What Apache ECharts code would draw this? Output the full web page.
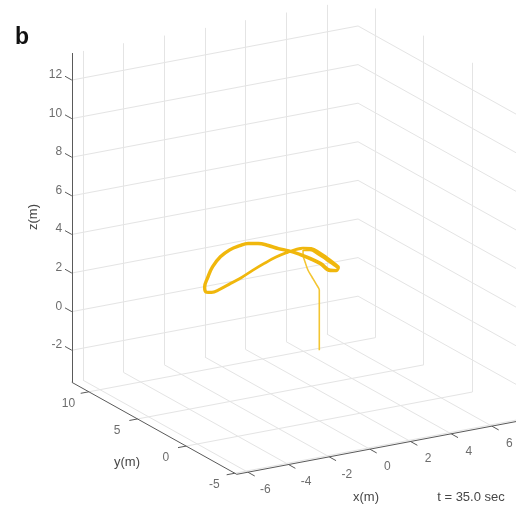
<!DOCTYPE html>
<html><head><meta charset="utf-8">
<script src="https://cdn.jsdelivr.net/npm/echarts@6/dist/echarts.min.js"></script>
<style>html,body{margin:0;padding:0;background:#fff}#c{width:516px;height:505px}</style>
</head><body><div id="c"></div>
<script>
// ---- axis limits & ticks (metres) ----
const xLim = [-6.55, 7.53];
const yLim = [-5.2, 11.75];
const zLim = [-3.66, 13.4];
const xTicks = [-6, -4, -2, 0, 2, 4, 6];
const yTicks = [-5, 0, 5, 10];
const zTicks = [-2, 0, 2, 4, 6, 8, 10, 12];
const timeLabel = 't = 35.0 sec';

// ---- trajectory (metres) ----
const climbX = [0, 0, 0, 0, -0.16, -0.36, -0.56, -0.70, -0.80, -0.80];
const climbY = [0, 0, 0, 0, 0, 0, 0, 0, 0, 0];
const climbZ = [0, 1.0, 2.0, 3.12, 3.47, 3.87, 4.27, 4.72, 5.10, 5.36];

const lap1X = [-0.80, -0.46, -0.06, 0.38, 0.72, 0.92, 0.82, 0.53, 0.03, -0.46, -0.95, -1.54, -2.03, -2.52, -3.02, -3.51, -3.90, -4.39, -4.84, -5.23, -5.47, -5.62, -5.52, -5.28, -4.88, -4.34, -3.80, -3.26, -2.67, -2.13, -1.54, -1.10, -0.80];
const lap1Y = [0, 0, 0, 0, 0, 0, 0, 0, 0, 0, 0, 0, 0, 0, 0, 0, 0, 0, 0, 0, 0, 0, 0, 0, 0, 0, 0, 0, 0, 0, 0, 0, 0];
const lap1Z = [5.36, 5.29, 5.00, 4.60, 4.28, 4.03, 3.95, 4.00, 4.47, 4.82, 5.13, 5.45, 5.65, 5.91, 6.11, 6.21, 6.18, 6.07, 5.80, 5.36, 4.85, 4.40, 4.12, 4.07, 4.15, 4.35, 4.55, 4.81, 5.06, 5.26, 5.40, 5.47, 5.46];

const lap2X = [-0.80, -0.40, 0.00, 0.40, 0.74, 0.95, 0.86, 0.55, 0.08, -0.42, -0.92, -1.50, -2.00, -2.50, -3.00, -3.50, -3.92, -4.42, -4.88, -5.27, -5.51, -5.66, -5.56, -5.30, -4.90, -4.36, -3.82, -3.28, -2.70, -2.15, -1.56, -1.12, -0.82];
const lap2Y = [0, 0, 0, 0, 0, 0, 0, 0, 0, 0, 0, 0, 0, 0, 0, 0, 0, 0, 0, 0, 0, 0, 0, 0, 0, 0, 0, 0, 0, 0, 0, 0, 0];
const lap2Z = [5.46, 5.36, 5.08, 4.70, 4.36, 4.10, 3.98, 4.06, 4.50, 4.86, 5.16, 5.47, 5.69, 5.95, 6.15, 6.25, 6.22, 6.10, 5.83, 5.38, 4.87, 4.40, 4.10, 4.04, 4.12, 4.32, 4.53, 4.79, 5.04, 5.24, 5.38, 5.45, 5.44];

// ---- orthographic view (projection onto a hidden 2-D plane) ----
const VIEW = {X0: 319.3, Y0: 350.3, AX: 20.33, AY: -9.73, BX: -3.84, BY: -5.43, BZ: -19.3};
function proj(x, y, z) {
  return [VIEW.X0 + VIEW.AX * x + VIEW.AY * y, VIEW.Y0 + VIEW.BX * x + VIEW.BY * y + VIEW.BZ * z];
}
function seg(a, b) { return {coords: [proj(a[0], a[1], a[2]), proj(b[0], b[1], b[2])]}; }

// grid lines on back wall (y = ymax), right wall (x = xmax), floor (z = zmin)
const grid = [];
xTicks.forEach(x => grid.push(seg([x, yLim[1], zLim[0]], [x, yLim[1], zLim[1]])));
zTicks.forEach(z => grid.push(seg([xLim[0], yLim[1], z], [xLim[1], yLim[1], z])));
yTicks.forEach(y => grid.push(seg([xLim[1], y, zLim[0]], [xLim[1], y, zLim[1]])));
zTicks.forEach(z => grid.push(seg([xLim[1], yLim[0], z], [xLim[1], yLim[1], z])));
xTicks.forEach(x => grid.push(seg([x, yLim[0], zLim[0]], [x, yLim[1], zLim[0]])));
yTicks.forEach(y => grid.push(seg([xLim[0], y, zLim[0]], [xLim[1], y, zLim[0]])));

// axis lines and ticks
const axes = [
  seg([xLim[0], yLim[1], zLim[0]], [xLim[0], yLim[1], zLim[1]]),
  seg([xLim[0], yLim[0], zLim[0]], [xLim[0], yLim[1], zLim[0]]),
  seg([xLim[0], yLim[0], zLim[0]], [xLim[1], yLim[0], zLim[0]])
];
zTicks.forEach(z => axes.push(seg([xLim[0], yLim[1], z], [xLim[0], yLim[1] + 0.7, z])));
xTicks.forEach(x => axes.push(seg([x, yLim[0], zLim[0]], [x, yLim[0] - 0.7, zLim[0]])));
yTicks.forEach(y => axes.push(seg([xLim[0], y, zLim[0]], [xLim[0] - 0.4, y, zLim[0]])));

const zLab = zTicks.map(z => ({value: proj(xLim[0], yLim[1] + 1.0, z), name: String(z)}));
const xLab = xTicks.map(x => ({value: proj(x, yLim[0] - 1.8, zLim[0] - 0.4), name: String(x)}));
const yLab = yTicks.map(y => ({value: proj(xLim[0] - 1.0, y, zLim[0] - 0.4), name: String(y)}));

const climb = climbX.map((x, i) => proj(x, climbY[i], climbZ[i]));
const loop = lap1X.map((x, i) => proj(x, lap1Y[i], lap1Z[i]))
  .concat(lap2X.map((x, i) => proj(x, lap2Y[i], lap2Z[i])));

const FONT = "'Liberation Sans', Arial, Helvetica, sans-serif";
const TXT = '#474747';
const labelStyle = {show: true, formatter: p => p.name, color: TXT, fontSize: 12, fontFamily: FONT};

const chart = echarts.init(document.getElementById('c'), null, {renderer: 'canvas'});
chart.setOption({
  animation: false,
  backgroundColor: '#ffffff',
  grid: {left: 0, right: 0, top: 0, bottom: 0},
  xAxis: {type: 'value', min: 0, max: 516, show: false},
  yAxis: {type: 'value', min: 0, max: 505, inverse: true, show: false},
  graphic: [
    {type: 'text', x: 22, y: 38, style: {text: 'b', font: "bold 23px " + FONT, fill: '#111', textAlign: 'center', textVerticalAlign: 'middle'}},
    {type: 'text', x: 33, y: 217, rotation: Math.PI / 2, style: {text: 'z(m)', font: "13px " + FONT, fill: TXT, textAlign: 'center', textVerticalAlign: 'middle'}},
    {type: 'text', x: 127, y: 462, style: {text: 'y(m)', font: "13px " + FONT, fill: TXT, textAlign: 'center', textVerticalAlign: 'middle'}},
    {type: 'text', x: 366, y: 497, style: {text: 'x(m)', font: "13px " + FONT, fill: TXT, textAlign: 'center', textVerticalAlign: 'middle'}},
    {type: 'text', x: 471, y: 497, style: {text: timeLabel, font: "13px " + FONT, fill: TXT, textAlign: 'center', textVerticalAlign: 'middle'}}
  ],
  series: [
    {type: 'lines', coordinateSystem: 'cartesian2d', silent: true, z: 1, data: grid,
     lineStyle: {color: '#e4e4e4', width: 1, opacity: 1}},
    {type: 'lines', coordinateSystem: 'cartesian2d', silent: true, z: 2, data: axes,
     lineStyle: {color: '#5a5a5a', width: 1, opacity: 1}},
    {type: 'scatter', symbolSize: 0, silent: true, data: zLab, label: Object.assign({}, labelStyle, {position: 'left', distance: 0})},
    {type: 'scatter', symbolSize: 0, silent: true, data: xLab, label: Object.assign({}, labelStyle, {position: 'inside'})},
    {type: 'scatter', symbolSize: 0, silent: true, data: yLab, label: Object.assign({}, labelStyle, {position: 'inside'})},
    {type: 'line', data: climb, showSymbol: false, smooth: 0.3, z: 3,
     lineStyle: {color: '#F3C532', width: 1.6}},
    {type: 'line', data: loop, showSymbol: false, smooth: 0.4, z: 4,
     lineStyle: {color: '#F0B70C', width: 2.6}}
  ]
});
</script></body></html>
